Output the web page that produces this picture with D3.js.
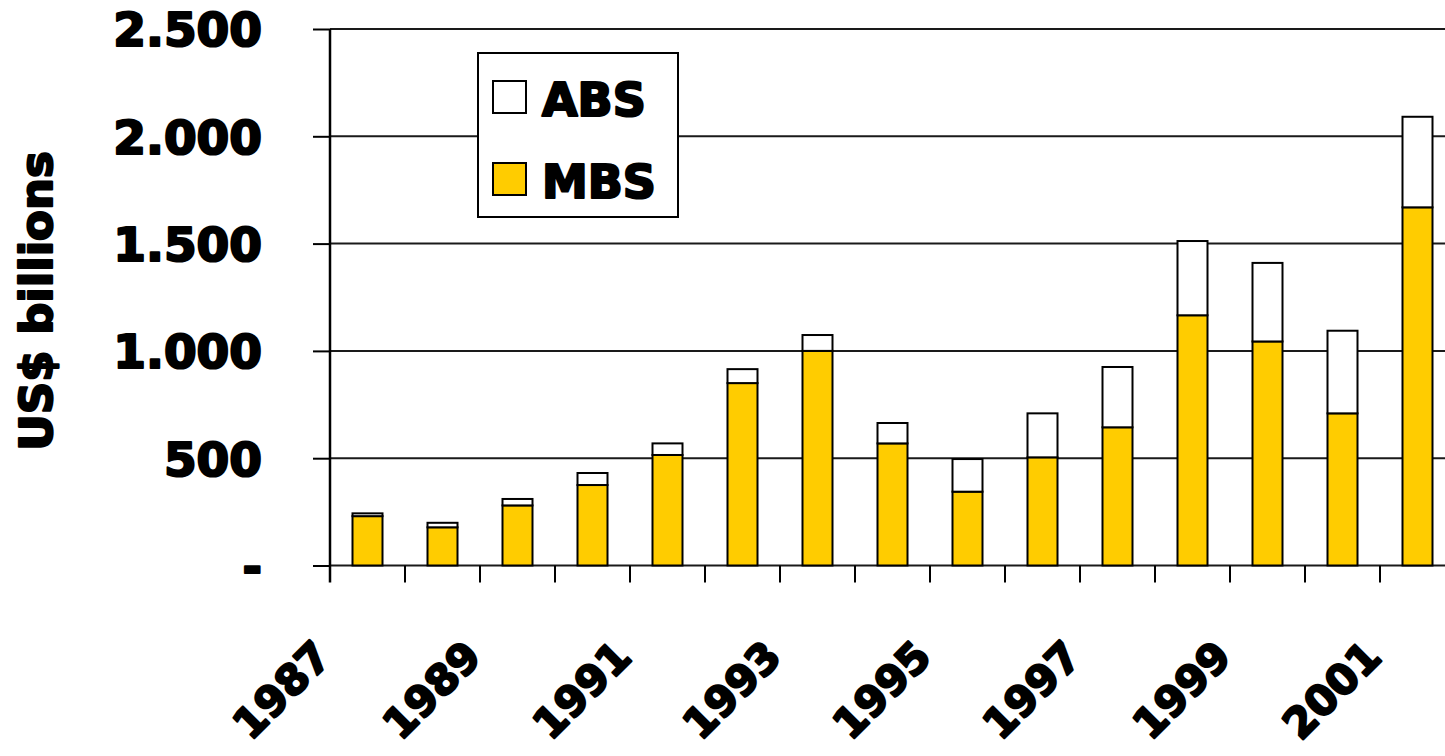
<!DOCTYPE html>
<html>
<head>
<meta charset="utf-8">
<script src="https://cdn.jsdelivr.net/npm/d3@7/dist/d3.min.js"></script>
<style>
  html, body { margin: 0; padding: 0; background: #fff; }
  svg { display: block; }
  text.heavy {
    font-family: "DejaVu Sans", "Liberation Sans", sans-serif;
    font-weight: bold;
    fill: #000;
    stroke: #000;
    stroke-width: 2.2px;
    stroke-linejoin: round;
  }
</style>
</head>
<body>
<svg id="chart" width="1445" height="756"></svg>
<script>
// Annual issuance, US$ billions
const years = [1987, 1988, 1989, 1990, 1991, 1992, 1993, 1994, 1995, 1996, 1997, 1998, 1999, 2000, 2001];
const mbsValues = [230, 178, 280, 375, 515, 850, 1000, 569, 344, 504, 644, 1166, 1044, 709, 1669];
const absValues = [13, 21, 30, 56, 54, 65, 74, 95, 152, 205, 281, 346, 366, 385, 422];

const seriesNames = ["MBS", "ABS"];
const seriesColors = { MBS: "#FFCC00", ABS: "#FFFFFF" };
const legendOrder = ["ABS", "MBS"];

const yTickValues = [0, 500, 1000, 1500, 2000, 2500];
const yTickLabels = ["-", "500", "1.000", "1.500", "2.000", "2.500"];
const xLabelYears = [1987, 1989, 1991, 1993, 1995, 1997, 1999, 2001];
const yTitle = "US$ billions";

const svg = d3.select("#chart");

const plotLeft = 330, plotRight = 1455, plotTop = 29, plotBottom = 565.5;

const x = d3.scaleBand()
  .domain(years)
  .range([plotLeft, plotRight])
  .paddingInner(0.6)
  .paddingOuter(0.3);

const y = d3.scaleLinear()
  .domain([0, 2500])
  .range([plotBottom, plotTop]);

const rows = years.map((yr, i) => ({ year: yr, MBS: mbsValues[i], ABS: absValues[i] }));
const stacked = d3.stack().keys(seriesNames)(rows);

// horizontal gridlines
svg.append("g")
  .selectAll("line")
  .data(yTickValues)
  .join("line")
  .attr("x1", plotLeft)
  .attr("x2", 1445)
  .attr("y1", d => y(d))
  .attr("y2", d => y(d))
  .attr("stroke", "#1a1a1a")
  .attr("stroke-width", 2);

// y axis with outside ticks
const yAxis = svg.append("g")
  .attr("transform", `translate(${plotLeft},0)`)
  .call(d3.axisLeft(y)
    .tickValues(yTickValues)
    .tickFormat((d, i) => yTickLabels[i])
    .tickSize(17)
    .tickPadding(51));
yAxis.select(".domain").remove();
yAxis.selectAll(".tick line").attr("stroke", "#000").attr("stroke-width", 2);
yAxis.selectAll(".tick text")
  .attr("class", "heavy")
  .attr("font-size", 47)
  .attr("dy", "0.36em")
  .attr("fill", null);

svg.append("line")
  .attr("x1", plotLeft).attr("x2", plotLeft)
  .attr("y1", plotTop).attr("y2", plotBottom + 17)
  .attr("stroke", "#000").attr("stroke-width", 2.5);

// x axis category boundary ticks
const boundaries = d3.range(1, years.length).map(i => plotLeft + i * x.step());
svg.append("g")
  .selectAll("line")
  .data(boundaries)
  .join("line")
  .attr("x1", d => d).attr("x2", d => d)
  .attr("y1", plotBottom).attr("y2", plotBottom + 17)
  .attr("stroke", "#000").attr("stroke-width", 2);

// stacked bars
svg.append("g")
  .selectAll("g")
  .data(stacked)
  .join("g")
  .attr("fill", d => seriesColors[d.key])
  .selectAll("rect")
  .data(d => d)
  .join("rect")
  .attr("x", d => x(d.data.year))
  .attr("width", x.bandwidth())
  .attr("y", d => y(d[1]))
  .attr("height", d => y(d[0]) - y(d[1]))
  .attr("stroke", "#000")
  .attr("stroke-width", 2);

// rotated year labels
svg.append("g")
  .selectAll("text")
  .data(xLabelYears)
  .join("text")
  .attr("class", "heavy")
  .attr("text-anchor", "end")
  .attr("font-size", 42)
  .attr("transform", d => `translate(${x(d) + x.bandwidth() / 2 - 34},659) rotate(-45)`)
  .text(d => d);

// y axis title
svg.append("text")
  .attr("class", "heavy")
  .attr("text-anchor", "middle")
  .attr("font-size", 45)
  .attr("transform", "translate(52,301) rotate(-90)")
  .text(yTitle);

// legend
const legend = svg.append("g");
legend.append("rect")
  .attr("x", 478).attr("y", 53).attr("width", 200).attr("height", 164)
  .attr("fill", "#fff").attr("stroke", "#000").attr("stroke-width", 2);
const items = legend.selectAll("g.item")
  .data(legendOrder)
  .join("g")
  .attr("class", "item")
  .attr("transform", (d, i) => `translate(0,${i * 82})`);
items.append("rect")
  .attr("x", 493).attr("y", 81).attr("width", 33).attr("height", 32)
  .attr("fill", d => seriesColors[d]).attr("stroke", "#000").attr("stroke-width", 2);
items.append("text")
  .attr("class", "heavy")
  .attr("x", 542).attr("y", 116)
  .attr("font-size", 46)
  .text(d => d);
</script>
</body>
</html>
